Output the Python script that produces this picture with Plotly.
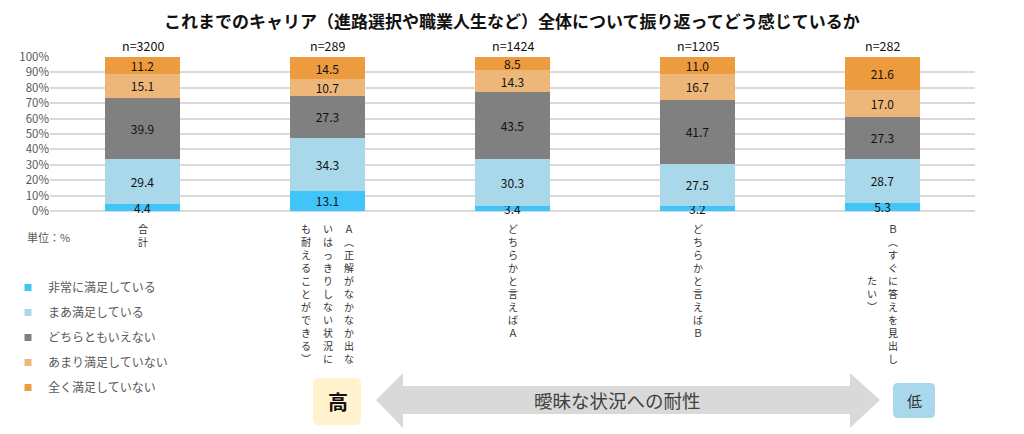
import plotly.graph_objects as go

# ---- data ----
categories = ["合計", "A（正解がなかなか出ないはっきりしない状況にも耐えることができる）",
              "どちらかと言えばA", "どちらかと言えばB", "B（すぐに答えを見出したい）"]
# vertical label columns (right to left), as written on the chart
label_columns = [
    ["合計"],
    ["Ａ︵正解がなかなか出な", "いはっきりしない状況に", "も耐えることができる︶"],
    ["どちらかと言えばＡ"],
    ["どちらかと言えばＢ"],
    ["Ｂ︵すぐに答えを見出し", "たい︶"],
]
n_labels = ["n=3200", "n=289", "n=1424", "n=1205", "n=282"]

series_names = ["非常に満足している", "まあ満足している", "どちらともいえない", "あまり満足していない", "全く満足していない"]
very_satisfied = [4.4, 13.1, 3.4, 3.2, 5.3]
somewhat_satisfied = [29.4, 34.3, 30.3, 27.5, 28.7]
neither = [39.9, 27.3, 43.5, 41.7, 27.3]
not_very_satisfied = [15.1, 10.7, 14.3, 16.7, 17.0]
not_at_all_satisfied = [11.2, 14.5, 8.5, 11.0, 21.6]
series_values = [very_satisfied, somewhat_satisfied, neither, not_very_satisfied, not_at_all_satisfied]
colors = ["#41C5F9", "#A8D8EA", "#808080", "#EDB77A", "#EC9B3F"]

title_text = "これまでのキャリア（進路選択や職業人生など）全体について振り返ってどう感じているか"
unit_text = "単位：%"
arrow_text = "曖昧な状況への耐性"
high_text = "高"
low_text = "低"

FONT = "Noto Sans CJK JP"
OFF = 8  # page body margin
W, H = 1024 - OFF, 434 - OFF
# plot area in screen pixels
SX0, SX1, SY0, SY1 = 50, 975, 57, 211
ML, MT = SX0 - OFF, SY0 - OFF
MR, MB = W - (SX1 - OFF), H - (SY1 - OFF)
PW, PH = SX1 - SX0, SY1 - SY0


def px(x):
    return (x - SX0) / PW


def py(y):
    return (SY1 - y) / PH


def cx(x):
    return max(0.0, (x - OFF) / W)


def cy(y):
    return 1 - (y - OFF) / H


fig = go.Figure()
for name, vals, col in zip(series_names, series_values, colors):
    fig.add_trace(go.Bar(
        x=categories, y=vals, name=name, marker=dict(color=col, line=dict(width=0)),
        text=[f"{v:.1f}" for v in vals], textposition="inside", insidetextanchor="middle",
        textangle=0, constraintext="none", cliponaxis=False,
        textfont=dict(family=FONT, size=12, color="#111111"),
        width=0.405, showlegend=False, hoverinfo="skip"))

for i, (name, col) in enumerate(zip(series_names, colors)):
    fig.add_trace(go.Scatter(
        x=[None], y=[None], mode="markers", name=name, legendgroup=f"g{i}",
        marker=dict(symbol="square", size=7, color=col)))

annotations = []
for cat, n in zip(categories, n_labels):
    annotations.append(dict(x=cat, y=100, xref="x", yref="y", text=n, showarrow=False,
                            xanchor="center", yanchor="bottom", yshift=0,
                            font=dict(family=FONT, size=12.5, color="#111111")))

LINE_H = 13
COL_GAP = 21.5
for cat, cols in zip(categories, label_columns):
    maxlen = max(len(c) for c in cols)
    ncol = len(cols)
    for j, col_text in enumerate(cols):
        xshift = ((ncol - 1) / 2 - j) * COL_GAP
        yshift = -8 - (maxlen - len(col_text)) * LINE_H / 2
        annotations.append(dict(x=cat, y=0, xref="x", yref="y", text="<br>".join(list(col_text)),
                                showarrow=False, yanchor="top", xanchor="center",
                                xshift=xshift, yshift=yshift, align="center",
                                font=dict(family=FONT, size=10, color="#333333")))

annotations.append(dict(x=px(25), y=py(237), xref="paper", yref="paper", text=unit_text,
                        showarrow=False, xanchor="left", yanchor="middle",
                        font=dict(family=FONT, size=11, color="#595959")))
annotations.append(dict(x=px(617), y=py(400), xref="paper", yref="paper", text=arrow_text,
                        showarrow=False, xanchor="center", yanchor="middle",
                        font=dict(family=FONT, size=18.5, color="#404040")))
annotations.append(dict(x=px(337.5), y=py(401), xref="paper", yref="paper", text=f"<b>{high_text}</b>",
                        showarrow=False, xanchor="center", yanchor="middle",
                        font=dict(family=FONT, size=20, color="#111111")))
annotations.append(dict(x=px(914), y=py(400), xref="paper", yref="paper", text=low_text,
                        showarrow=False, xanchor="center", yanchor="middle",
                        font=dict(family=FONT, size=15, color="#333333")))
# title as annotation
annotations.append(dict(x=px(512), y=py(21), xref="paper", yref="paper", text=f"<b>{title_text}</b>",
                        showarrow=False, xanchor="center", yanchor="middle",
                        font=dict(family=FONT, size=17, color="#111111")))

shapes = []
pts = [(376, 400), (403, 373), (403, 386), (850, 386), (850, 373), (880, 400),
       (850, 428), (850, 414), (403, 414), (403, 428)]
path = "M " + " L ".join(f"{px(a):.5f},{py(b):.5f}" for a, b in pts) + " Z"
shapes.append(dict(type="path", path=path, xref="paper", yref="paper",
                   fillcolor="#D9D9D9", line=dict(width=0), layer="below"))


def rrect(x0, y0, x1, y1, r):
    p = [
        f"M {px(x0 + r)},{py(y0)}",
        f"L {px(x1 - r)},{py(y0)}",
        f"Q {px(x1)},{py(y0)} {px(x1)},{py(y0 + r)}",
        f"L {px(x1)},{py(y1 - r)}",
        f"Q {px(x1)},{py(y1)} {px(x1 - r)},{py(y1)}",
        f"L {px(x0 + r)},{py(y1)}",
        f"Q {px(x0)},{py(y1)} {px(x0)},{py(y1 - r)}",
        f"L {px(x0)},{py(y0 + r)}",
        f"Q {px(x0)},{py(y0)} {px(x0 + r)},{py(y0)} Z",
    ]
    return " ".join(p)


shapes.append(dict(type="path", path=rrect(313, 378, 361, 425, 6), xref="paper", yref="paper",
                   fillcolor="#FFF2CC", line=dict(width=0), layer="below"))
shapes.append(dict(type="path", path=rrect(893, 383, 935, 418, 5), xref="paper", yref="paper",
                   fillcolor="#A9D8EC", line=dict(width=0), layer="below"))

fig.update_layout(
    width=W, height=H, barmode="stack", barnorm="percent",
    margin=dict(l=ML, r=MR, t=MT, b=MB, autoexpand=False),
    paper_bgcolor="white", plot_bgcolor="white",
    font=dict(family=FONT),
    xaxis=dict(type="category", range=[-0.5, 4.5], showticklabels=False, showgrid=False,
               showline=False, zeroline=False, fixedrange=True),
    yaxis=dict(range=[0, 100.0001], tickvals=list(range(0, 101, 10)),
               ticktext=[f"{v}%" for v in range(0, 101, 10)], showgrid=True, gridcolor="#D9D9D9",
               gridwidth=1.5, zeroline=True, zerolinecolor="#D9D9D9", zerolinewidth=1.5,
               tickfont=dict(family=FONT, size=11.5, color="#595959"), ticks="", ticklen=0),
    legend=dict(xref="container", yref="container", x=0, y=cy(273),
                xanchor="left", yanchor="top", traceorder="grouped", tracegroupgap=6,
                font=dict(family=FONT, size=12, color="#595959"), bgcolor="rgba(0,0,0,0)"),
    annotations=annotations, shapes=shapes, showlegend=True,
)

fig.write_html("out.html")
